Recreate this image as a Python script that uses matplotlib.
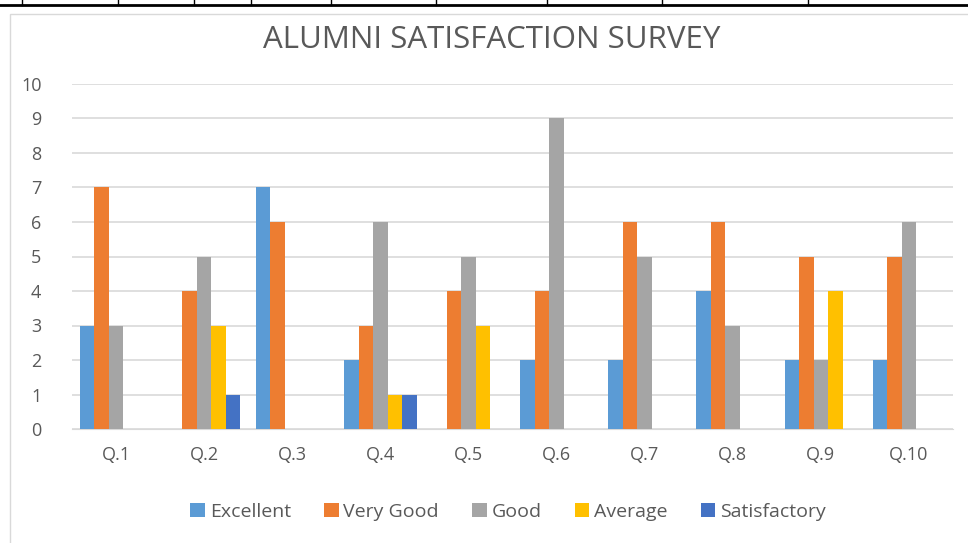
import numpy as np
import matplotlib.pyplot as plt
from matplotlib.lines import Line2D
from matplotlib.patches import Rectangle

plt.rcParams['font.family'] = ['Open Sans', 'DejaVu Sans']

questions = ['Q.1', 'Q.2', 'Q.3', 'Q.4', 'Q.5', 'Q.6', 'Q.7', 'Q.8', 'Q.9', 'Q.10']
excellent = [3, 0, 7, 2, 0, 2, 2, 4, 2, 2]
very_good = [7, 4, 6, 3, 4, 4, 6, 6, 5, 5]
good = [3, 5, 0, 6, 5, 9, 5, 3, 2, 6]
average = [0, 3, 0, 1, 3, 0, 0, 0, 4, 0]
satisfactory = [0, 1, 0, 1, 0, 0, 0, 0, 0, 0]

series = [('Excellent', excellent, '#5b9bd5'),
          ('Very Good', very_good, '#ed7d31'),
          ('Good', good, '#a5a5a5'),
          ('Average', average, '#ffc000'),
          ('Satisfactory', satisfactory, '#4472c4')]

fig = plt.figure(figsize=(9.68, 5.43), dpi=100)

# table lines at the very top of the page
fig.add_artist(Line2D([0, 1], [1 - 5 / 543, 1 - 5 / 543], color='black', lw=2))
for xp in [22, 118, 194, 251, 331, 436, 547, 662, 808]:
    fig.add_artist(Line2D([xp / 968, xp / 968], [1 - 5 / 543, 1], color='black', lw=1))

# chart frame
fig.add_artist(Rectangle((10 / 968, -0.01), 1.0, 1 - 14 / 543 + 0.01, fill=False,
                         edgecolor='#d9d9d9', lw=1))

ax = fig.add_axes([72 / 968, 1 - 429 / 543, (953 - 72) / 968, (429 - 84) / 543])

x = np.arange(len(questions))
w = 0.165
for i, (name, vals, col) in enumerate(series):
    ax.bar(x + (i - 2) * w, vals, w, color=col, label=name, zorder=3)

ax.set_xlim(-0.5, len(questions) - 0.5)
ax.set_ylim(0, 10)
ax.set_yticks(range(0, 11))
ax.yaxis.grid(True, color='#d9d9d9', lw=1.2, zorder=0)
ax.set_xticks(x)
ax.set_xticklabels(questions)
ax.tick_params(axis='both', length=0, colors='#595959', labelsize=13)
ax.tick_params(axis='x', pad=12)
ax.tick_params(axis='y', pad=22)
for s in ['top', 'right', 'left']:
    ax.spines[s].set_visible(False)
ax.spines['bottom'].set_color('#d9d9d9')

fig.text(492 / 968, 1 - 40 / 543, 'ALUMNI SATISFACTION SURVEY', ha='center', va='center',
         fontsize=22.5, color='#595959')

fig.legend(loc='center', bbox_to_anchor=(0.525, 1 - 512 / 543), ncol=5, frameon=False,
           fontsize=14, labelcolor='#595959', handlelength=0.75, handleheight=0.75,
           handletextpad=0.25, columnspacing=1.7)

fig.savefig('out.png', dpi=100)
